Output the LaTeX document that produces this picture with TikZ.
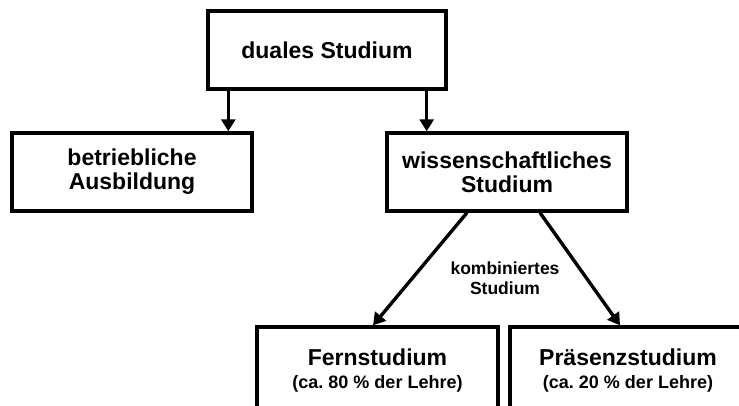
\documentclass[tikz,border=0pt]{standalone}
\usepackage{fontspec}
\setmainfont{Liberation Sans}
\usetikzlibrary{arrows.meta}
\frenchspacing
\tikzset{
  box/.style={draw, line width=3.4pt, rectangle, inner sep=0pt, align=center,
    font=\fontsize{23}{24}\selectfont\bfseries},
  arr/.style={line width=3.4pt, -{Triangle[width=14pt,length=12pt]}},
}
\begin{document}
\begin{tikzpicture}[x=1pt,y=-1pt]
\useasboundingbox (0,0) rectangle (739,405);
\clip (0,0) rectangle (739,405);
\fill[white] (0,0) rectangle (739,405);
\node[box, minimum width=238pt, minimum height=78pt] (top) at (327,50) {duales Studium};
\node[box, minimum width=240pt, minimum height=78pt] (betr) at (132,172) {betriebliche\\Ausbildung};
\node[box, minimum width=240pt, minimum height=78pt] (wiss) at (507,172) {wissenschaftliches\\Studium};
\node[box, minimum width=241pt, minimum height=88pt] (fern) at (377.5,371)
  {Fernstudium\\[-1pt]{\fontsize{18}{19}\selectfont (ca.\ 80 \% der Lehre)}};
\node[box, minimum width=236pt, minimum height=88pt] (praes) at (628,371)
  {Präsenzstudium\\[-1pt]{\fontsize{18}{19}\selectfont (ca.\ 20 \% der Lehre)}};
\draw[arr] ([xshift=22pt]top.south west) -- ([xshift=22pt]top.south west |- betr.north);
\draw[arr] ([xshift=-21pt]top.south east) -- ([xshift=-21pt]top.south east |- wiss.north);
\draw[arr] ([xshift=-40pt]wiss.south) -- ([xshift=-4.5pt]fern.north);
\draw[arr] ([xshift=33pt]wiss.south) -- ([xshift=-8pt]praes.north);
\node[align=center, font=\fontsize{17.5}{20}\selectfont\bfseries] (komb) at (505,278) {kombiniertes\\Studium};
\end{tikzpicture}
\end{document}
